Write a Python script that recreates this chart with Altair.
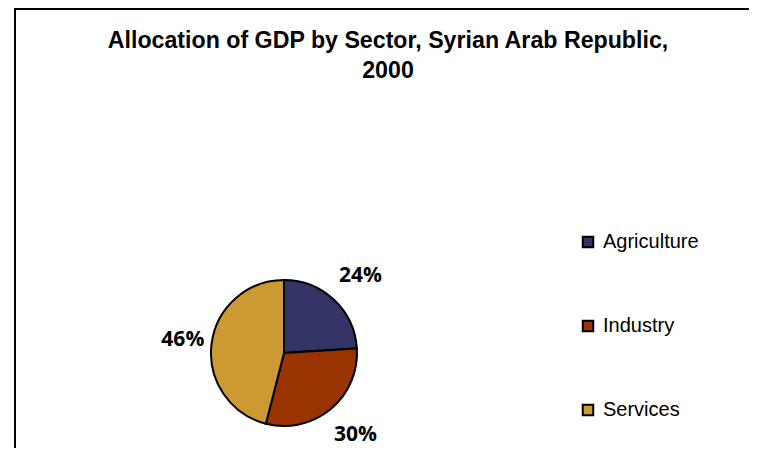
import altair as alt
import pandas as pd

sectors = ["Agriculture", "Industry", "Services"]
shares = [24, 30, 46]
labels = ["24%", "30%", "46%"]
colors = ["#333366", "#993300", "#CC9933"]
title_lines = ["Allocation of GDP by Sector, Syrian Arab Republic,", "2000"]

df = pd.DataFrame({"sector": sectors, "share": shares, "label": labels})

W, H = 734, 439
cx, cy, R = 269, 344, 73

color = alt.Color("sector:N", sort=sectors,
                  scale=alt.Scale(domain=sectors, range=colors),
                  legend=alt.Legend(title=None, orient="none", legendX=563, legendY=223,
                                    symbolType="square", symbolSize=110,
                                    symbolStrokeColor="black", symbolStrokeWidth=2,
                                    labelFont="Liberation Sans", labelFontSize=20,
                                    labelColor="black", rowPadding=64, labelOffset=5,
                                    symbolOpacity=1))

base = alt.Chart(df).encode(
    theta=alt.Theta("share:Q", stack=True),
    order=alt.Order("sector:N", sort="ascending"),
)

pie = base.mark_arc(outerRadius=R, stroke="black", strokeWidth=2, x=cx, y=cy).encode(color=color)

text = base.mark_text(radius=106, x=cx, y=cy, dx=4, dy=0, font="Open Sans", fontWeight="bold",
                      fontSize=21, color="black").encode(text="label:N")

title = alt.Chart(pd.DataFrame({"t": ["\n".join(title_lines)]})).mark_text(
    font="Liberation Sans", fontWeight="bold", fontSize=23.2, lineBreak="\n",
    lineHeight=30, align="center", baseline="alphabetic", color="black"
).encode(text="t:N", x=alt.value(373), y=alt.value(39))

frame = pd.DataFrame({"k": ["frame"]})
left_bar = alt.Chart(frame).mark_rect(color="black").encode(
    x=alt.value(-1), x2=alt.value(1), y=alt.value(-1), y2=alt.value(H))
top_bar = alt.Chart(frame).mark_rect(color="black").encode(
    x=alt.value(-1), x2=alt.value(W), y=alt.value(-1), y2=alt.value(1))

chart = alt.layer(pie, text, title, left_bar, top_bar).properties(
    width=W, height=H, autosize=alt.AutoSizeParams(type="none"),
    padding={"left": 7, "top": 1, "right": 0, "bottom": 0}
).configure_view(stroke=None)

chart.save("out.html", embed_options={"renderer": "svg", "actions": False})
